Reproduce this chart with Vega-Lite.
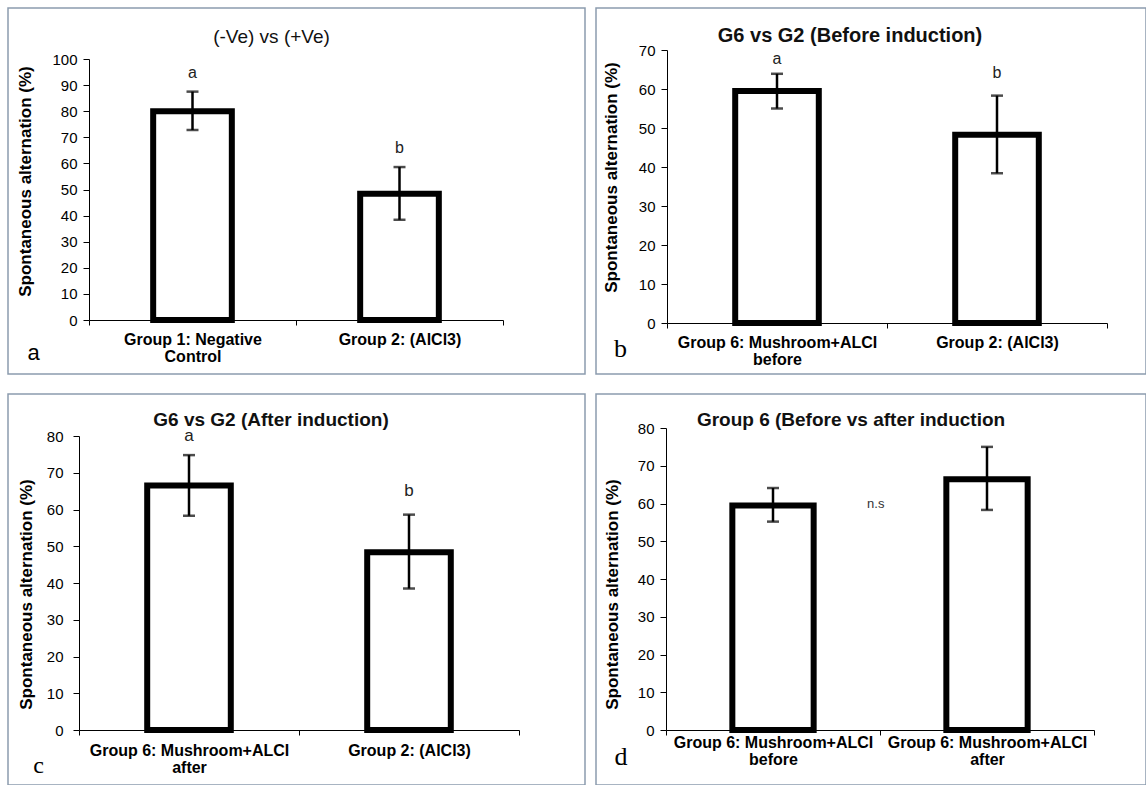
{
  "$schema": "https://vega.github.io/schema/vega-lite/v6.json",
  "padding": {"left": 7, "top": 7, "right": 0, "bottom": 0},
  "background": "white",
  "datasets": {
    "pa": [
      {"g": "Group 1: Negative|Control", "v": 80, "lo": 72.8, "hi": 87.5, "lab": "a", "ly": 94.7},
      {"g": "Group 2: (AlCl3)", "v": 48.4, "lo": 38.4, "hi": 58.6, "lab": "b", "ly": 66}
    ],
    "pb": [
      {"g": "Group 6: Mushroom+ALCI|before", "v": 59.5, "lo": 55, "hi": 63.9, "lab": "a", "ly": 67.6},
      {"g": "Group 2: (AlCl3)", "v": 48.3, "lo": 38.4, "hi": 58.3, "lab": "b", "ly": 64.2}
    ],
    "pc": [
      {"g": "Group 6: Mushroom+ALCI|after", "v": 66.5, "lo": 58.3, "hi": 74.8, "lab": "a", "ly": 79.9},
      {"g": "Group 2: (AlCl3)", "v": 48.4, "lo": 38.5, "hi": 58.6, "lab": "b", "ly": 65.1}
    ],
    "pd": [
      {"g": "Group 6: Mushroom+ALCI|before", "v": 59.5, "lo": 55.2, "hi": 64.1},
      {"g": "Group 6: Mushroom+ALCI|after", "v": 66.4, "lo": 58.3, "hi": 75}
    ],
    "pdns": [
      {"g": "Group 6: Mushroom+ALCI|before", "lab": "n.s", "ly": 59.9}
    ]
  },
  "spacing": 18,
  "vconcat": [
    {
      "spacing": 11,
      "bounds": "flush",
      "hconcat": [
        {
          "width": 577,
          "height": 366,
          "title": {"text": "(-Ve) vs (+Ve)", "offset": -48, "baseline": "middle", "dx": -25, "fontSize": 19, "fontWeight": "normal"},
          "data": {"name": "pa"},
          "encoding": {
            "x": {
              "field": "g", "type": "nominal", "sort": null,
              "scale": {"range": [81, 495], "paddingInner": 0, "paddingOuter": 0},
              "axis": {"title": "a", "titleX": 25, "titleY": 39, "titleAlign": "center", "titleBaseline": "alphabetic", "titleFontSize": 22, "titleFontWeight": "normal", "titleFont": "Liberation Sans", "offset": -54, "labelPadding": 6}
            }
          },
          "layer": [
            {
              "mark": {"type": "bar", "fill": "white", "stroke": "black", "strokeWidth": 6, "width": {"band": 0.38}},
              "encoding": {"y": {"field": "v", "type": "quantitative", "scale": {"domain": [0, 100], "range": [312, 51], "nice": false, "zero": true},
                "axis": {"title": "Spontaneous alternation (%)", "values": [0,10,20,30,40,50,60,70,80,90,100], "tickCount": 12, "offset": -81, "titleX": -63.5, "titleY": 173}}}
            },
            {"mark": {"type": "rule", "strokeWidth": 2.5, "color": "black"}, "encoding": {"y": {"field": "lo", "type": "quantitative"}, "y2": {"field": "hi"}}},
            {"mark": {"type": "tick", "size": 12, "thickness": 2.5, "color": "black"}, "encoding": {"y": {"field": "lo", "type": "quantitative"}}},
            {"mark": {"type": "tick", "size": 12, "thickness": 2.5, "color": "black"}, "encoding": {"y": {"field": "hi", "type": "quantitative"}}},
            {"mark": {"type": "text", "fontSize": 16, "font": "Liberation Sans", "baseline": "middle", "color": "#222"}, "encoding": {"y": {"field": "ly", "type": "quantitative"}, "text": {"field": "lab"}}}
          ]
        },
        {
          "width": 550,
          "height": 366,
          "title": {"text": "G6 vs G2 (Before induction)", "offset": -48, "baseline": "middle", "dx": -21, "fontSize": 20, "fontWeight": "bold"},
          "data": {"name": "pb"},
          "encoding": {
            "x": {
              "field": "g", "type": "nominal", "sort": null,
              "scale": {"range": [71, 511], "paddingInner": 0, "paddingOuter": 0},
              "axis": {"title": "b", "titleX": 24, "titleY": 33, "titleAlign": "center", "titleBaseline": "alphabetic", "titleFontSize": 26, "titleFontWeight": "normal", "titleFont": "Liberation Serif", "offset": -51, "labelPadding": 6}
            }
          },
          "layer": [
            {
              "mark": {"type": "bar", "fill": "white", "stroke": "black", "strokeWidth": 6, "width": {"band": 0.38}},
              "encoding": {"y": {"field": "v", "type": "quantitative", "scale": {"domain": [0, 70], "range": [315, 42], "nice": false, "zero": true},
                "axis": {"title": "Spontaneous alternation (%)", "values": [0,10,20,30,40,50,60,70], "tickCount": 12, "offset": -71, "titleX": -56, "titleY": 169}}}
            },
            {"mark": {"type": "rule", "strokeWidth": 2.5, "color": "black"}, "encoding": {"y": {"field": "lo", "type": "quantitative"}, "y2": {"field": "hi"}}},
            {"mark": {"type": "tick", "size": 12, "thickness": 2.5, "color": "black"}, "encoding": {"y": {"field": "lo", "type": "quantitative"}}},
            {"mark": {"type": "tick", "size": 12, "thickness": 2.5, "color": "black"}, "encoding": {"y": {"field": "hi", "type": "quantitative"}}},
            {"mark": {"type": "text", "fontSize": 16, "font": "Liberation Sans", "baseline": "middle", "color": "#222"}, "encoding": {"y": {"field": "ly", "type": "quantitative"}, "text": {"field": "lab"}}}
          ]
        }
      ]
    },
    {
      "spacing": 11,
      "bounds": "flush",
      "hconcat": [
        {
          "width": 577,
          "height": 391,
          "title": {"text": "G6 vs G2 (After induction)", "offset": -45, "baseline": "middle", "dx": -25.5, "fontSize": 19, "fontWeight": "bold"},
          "data": {"name": "pc"},
          "encoding": {
            "x": {
              "field": "g", "type": "nominal", "sort": null,
              "scale": {"range": [71, 511], "paddingInner": 0, "paddingOuter": 0},
              "axis": {"title": "c", "titleX": 30, "titleY": 42, "titleAlign": "center", "titleBaseline": "alphabetic", "titleFontSize": 24, "titleFontWeight": "normal", "titleFont": "Liberation Serif", "offset": -55, "labelPadding": 7}
            }
          },
          "layer": [
            {
              "mark": {"type": "bar", "fill": "white", "stroke": "black", "strokeWidth": 6, "width": {"band": 0.38}},
              "encoding": {"y": {"field": "v", "type": "quantitative", "scale": {"domain": [0, 80], "range": [336, 42], "nice": false, "zero": true},
                "axis": {"title": "Spontaneous alternation (%)", "values": [0,10,20,30,40,50,60,70,80], "tickCount": 12, "offset": -71, "titleX": -53, "titleY": 200, "labelPadding": 10}}}
            },
            {"mark": {"type": "rule", "strokeWidth": 2.5, "color": "black"}, "encoding": {"y": {"field": "lo", "type": "quantitative"}, "y2": {"field": "hi"}}},
            {"mark": {"type": "tick", "size": 12, "thickness": 2.5, "color": "black"}, "encoding": {"y": {"field": "lo", "type": "quantitative"}}},
            {"mark": {"type": "tick", "size": 12, "thickness": 2.5, "color": "black"}, "encoding": {"y": {"field": "hi", "type": "quantitative"}}},
            {"mark": {"type": "text", "fontSize": 17, "font": "Liberation Sans", "baseline": "middle", "color": "#222"}, "encoding": {"y": {"field": "ly", "type": "quantitative"}, "text": {"field": "lab"}}}
          ]
        },
        {
          "width": 550,
          "height": 391,
          "title": {"text": "Group 6 (Before vs after induction", "offset": -45, "baseline": "middle", "dx": -20, "fontSize": 19, "fontWeight": "bold"},
          "encoding": {
            "x": {
              "field": "g", "type": "nominal", "sort": null,
              "scale": {"domain": ["Group 6: Mushroom+ALCI|before", "Group 6: Mushroom+ALCI|after"], "range": [70, 498], "paddingInner": 0, "paddingOuter": 0},
              "axis": {"title": "d", "titleX": 24.5, "titleY": 34, "titleAlign": "center", "titleBaseline": "alphabetic", "titleFontSize": 26, "titleFontWeight": "normal", "titleFont": "Liberation Serif", "offset": -55, "labelPadding": -1}
            }
          },
          "layer": [
            {
              "data": {"name": "pd"},
              "mark": {"type": "bar", "fill": "white", "stroke": "black", "strokeWidth": 6, "width": {"band": 0.38}},
              "encoding": {"y": {"field": "v", "type": "quantitative", "scale": {"domain": [0, 80], "range": [336, 34], "nice": false, "zero": true},
                "axis": {"title": "Spontaneous alternation (%)", "values": [0,10,20,30,40,50,60,70,80], "tickCount": 12, "offset": -70, "titleX": -54, "titleY": 200}}}
            },
            {"data": {"name": "pd"}, "mark": {"type": "rule", "strokeWidth": 2.5, "color": "black"}, "encoding": {"y": {"field": "lo", "type": "quantitative"}, "y2": {"field": "hi"}}},
            {"data": {"name": "pd"}, "mark": {"type": "tick", "size": 12, "thickness": 2.5, "color": "black"}, "encoding": {"y": {"field": "lo", "type": "quantitative"}}},
            {"data": {"name": "pd"}, "mark": {"type": "tick", "size": 12, "thickness": 2.5, "color": "black"}, "encoding": {"y": {"field": "hi", "type": "quantitative"}}},
            {"data": {"name": "pdns"}, "mark": {"type": "text", "fontSize": 13, "font": "Liberation Sans", "baseline": "middle", "color": "#333"}, "encoding": {"x": {"field": "g", "type": "nominal", "bandPosition": 0.98}, "y": {"field": "ly", "type": "quantitative"}, "text": {"field": "lab"}}}
          ]
        }
      ]
    }
  ],
  "config": {
    "view": {"stroke": "#8c9cae", "strokeWidth": 1.5},
    "font": "Liberation Sans",
    "title": {"font": "Liberation Sans", "color": "#111", "anchor": "middle"},
    "axis": {
      "grid": false,
      "domainColor": "black",
      "domainWidth": 1,
      "tickColor": "black",
      "tickSize": 5,
      "labelColor": "black",
      "titleColor": "black",
      "labelFont": "Liberation Sans",
      "titleFont": "Liberation Sans"
    },
    "axisX": {
      "labelExpr": "split(datum.label, '|')",
      "labelAngle": 0,
      "labelFontSize": 16,
      "labelFontWeight": "bold",
      "labelLineHeight": 17,
      "labelOverlap": false,
      "labelBound": false,
      "labelFlush": false,
      "labelLimit": 0,
      "tickBand": "extent"
    },
    "axisY": {
      "labelFontSize": 15,
      "labelPadding": 6,
      "labelOverlap": false,
      "labelFlush": false,
      "tickSize": 6,
      "titleFontSize": 17,
      "titleFontWeight": "bold",
      "titleAngle": -90,
      "titleBaseline": "middle",
      "titleAlign": "center"
    }
  }
}
